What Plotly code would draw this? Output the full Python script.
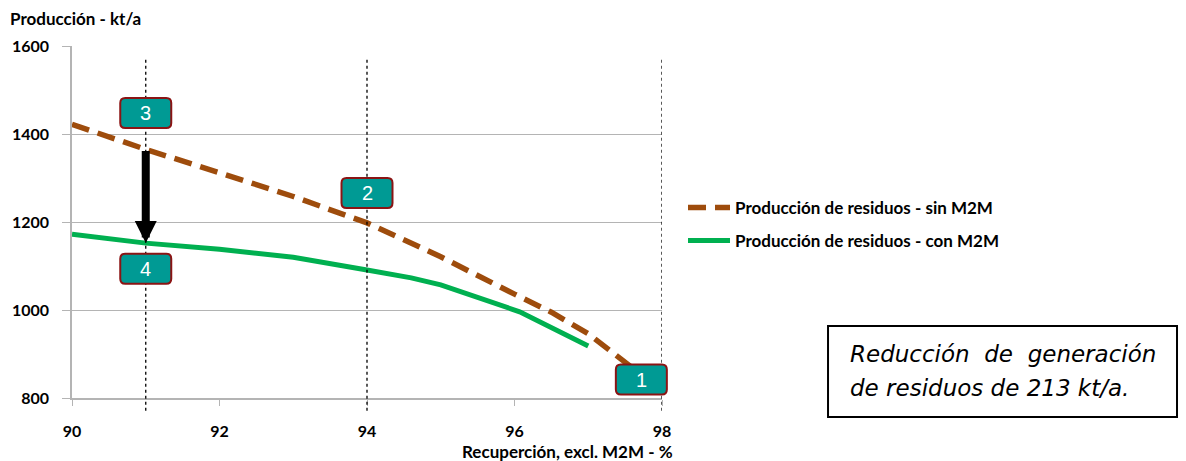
import plotly.graph_objects as go

# Recovery (%) vs waste production (kt/a)
x_sin = [90, 91, 92, 93, 94, 95, 96, 96.5, 97, 97.5, 97.65]
y_sin = [1422, 1365, 1312, 1258, 1198, 1121, 1036, 995, 946, 882, 862]
x_con = [90, 91, 92, 93, 94, 94.6, 95, 96.07, 97]
y_con = [1172, 1152, 1138, 1120, 1091, 1073, 1057, 996, 918]

name_sin = "Producción de residuos - sin M2M"
name_con = "Producción de residuos - con M2M"

# Numbered markers: (label, x, y)
markers = [("3", 91, 1448), ("2", 94, 1266), ("4", 91, 1094), ("1", 97.72, 842)]
guide_x = [91, 94, 98]
reduction_x = 91
reduction_from = 1365
reduction_to = 1152

X_RANGE = [90, 98]
Y_RANGE = [800, 1600]

FONT = "Lato"
BROWN = "#9E4C0C"
GREEN = "#00B050"
TEAL = "#009A94"
DARKRED = "#8B1414"


def rounded_rect(w, h, r):
    """SVG path of a rounded rectangle centred on the origin (pixel units)."""
    x0, x1, y0, y1 = -w / 2, w / 2, -h / 2, h / 2
    return (f"M {x0 + r},{y0} L {x1 - r},{y0} Q {x1},{y0} {x1},{y0 + r} "
            f"L {x1},{y1 - r} Q {x1},{y1} {x1 - r},{y1} "
            f"L {x0 + r},{y1} Q {x0},{y1} {x0},{y1 - r} "
            f"L {x0},{y0 + r} Q {x0},{y0} {x0 + r},{y0} Z")


def to_paper(v, rng):
    return (v - rng[0]) / (rng[1] - rng[0])


fig = go.Figure()
fig.add_trace(go.Scatter(x=x_sin, y=y_sin, mode="lines", name=name_sin,
                         legendgroup="a",
                         line=dict(color=BROWN, width=5.5, dash="18px,9px")))
fig.add_trace(go.Scatter(x=x_con, y=y_con, mode="lines", name=name_con,
                         legendgroup="b",
                         line=dict(color=GREEN, width=5)))

# dotted vertical guides
for gx in guide_x:
    fig.add_shape(type="line", xref="x", yref="paper", x0=gx, x1=gx,
                  y0=-0.036, y1=0.968, layer="above",
                  line=dict(color="black", width=1.3, dash="dot"))

# reduction arrow
fig.add_annotation(x=reduction_x, y=reduction_to, ax=reduction_x, ay=reduction_from,
                   xref="x", yref="y", axref="x", ayref="y", text="",
                   showarrow=True, arrowhead=2, arrowwidth=8, arrowsize=0.55,
                   arrowcolor="black", standoff=0)

# numbered call-outs: rounded teal boxes with white numbers
# (anchored in paper space so a box may overhang the plot edge)
box_path = rounded_rect(51, 30, 5)
for label, mx, my in markers:
    fig.add_shape(type="path", xref="paper", yref="paper",
                  xsizemode="pixel", ysizemode="pixel",
                  xanchor=to_paper(mx, X_RANGE), yanchor=to_paper(my, Y_RANGE),
                  path=box_path, layer="above",
                  fillcolor=TEAL, line=dict(color=DARKRED, width=2))
    fig.add_annotation(x=mx, y=my, xref="x", yref="y", text=label, showarrow=False,
                       font=dict(family="Liberation Sans", size=20, color="white"))

# titles
fig.add_annotation(x=-0.1085, y=1.0795, xref="paper", yref="paper",
                   text="<b>Producción - kt/a</b>", showarrow=False,
                   xanchor="left", yanchor="middle",
                   font=dict(family=FONT, size=17, color="black"))
fig.add_annotation(x=0.839, y=-0.153, xref="paper", yref="paper",
                   text="<b>Recuperción, excl. M2M - %</b>", showarrow=False,
                   xanchor="center", yanchor="middle",
                   font=dict(family=FONT, size=17, color="black"))

# summary box
fig.add_shape(type="rect", xref="paper", yref="paper",
              x0=1.2814, x1=1.8729, y0=-0.054, y1=0.2045,
              line=dict(color="black", width=2), fillcolor="white")
fig.add_annotation(x=1.3153, y=0.126, xref="paper", yref="paper",
                   text="<i>Reducción&nbsp; de&nbsp; generación</i>", showarrow=False,
                   xanchor="left", yanchor="middle",
                   font=dict(family="DejaVu Sans", size=23, color="black"))
fig.add_annotation(x=1.3153, y=0.029, xref="paper", yref="paper",
                   text="<i>de residuos de 213 kt/a.</i>", showarrow=False,
                   xanchor="left", yanchor="middle",
                   font=dict(family="DejaVu Sans", size=23, color="black"))

fig.update_layout(
    width=1186, height=461,
    margin=dict(l=72, r=524, t=46, b=63),
    plot_bgcolor="white", paper_bgcolor="white",
    font=dict(family=FONT, color="black"),
    showlegend=True,
    legend=dict(x=1.0356, y=0.493, xanchor="left", yanchor="middle",
                font=dict(family=FONT, size=17, color="black", weight="bold"),
                tracegroupgap=8, bgcolor="rgba(0,0,0,0)",
                itemwidth=42),
    xaxis=dict(range=X_RANGE, tickvals=[90, 92, 94, 96, 98],
               tickfont=dict(family=FONT, size=16, color="black", weight="bold"),
               showgrid=False, zeroline=False, showline=True,
               linecolor="#b4b4b4", linewidth=1.5,
               ticks="outside", ticklen=6, tickcolor="#b4b4b4",
               ticklabelstandoff=12),
    yaxis=dict(range=Y_RANGE, tickvals=[800, 1000, 1200, 1400, 1600],
               tickfont=dict(family=FONT, size=16, color="black", weight="bold"),
               showgrid=True, gridcolor="#b4b4b4", gridwidth=1.3,
               zeroline=False, showline=True,
               linecolor="#b4b4b4", linewidth=1.5,
               ticks="outside", ticklen=8, tickcolor="#b4b4b4",
               ticklabelstandoff=10),
)

fig.write_html("out.html")
